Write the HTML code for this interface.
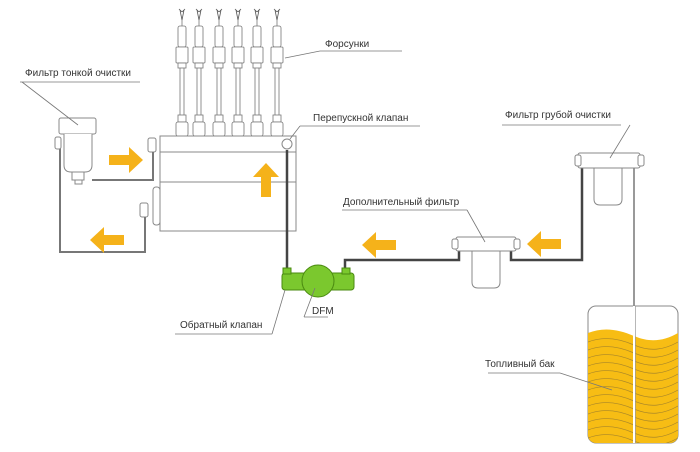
<!DOCTYPE html>
<html><head><meta charset="utf-8"><style>
html,body{margin:0;padding:0;background:#fff;width:700px;height:452px;overflow:hidden}
svg text{font-family:"Liberation Sans",sans-serif;font-size:10px;fill:#333}
</style></head><body>
<svg width="700" height="452" viewBox="0 0 700 452" xmlns="http://www.w3.org/2000/svg">
<defs>
<clipPath id="tank"><rect x="588" y="306" width="90" height="137" rx="8"/></clipPath>
<g id="inj" fill="#fff" stroke="#777" stroke-width="0.8">
<path d="M-2 10 L0 20 L2 10 M0 12 L-3 9 M0 12 L3 9" fill="none" stroke="#555"/>
<line x1="0" y1="20" x2="0" y2="26"/>
<rect x="-4" y="26" width="8" height="21" rx="2"/>
<rect x="-6" y="47" width="12" height="16" rx="1"/>
<rect x="-4" y="63" width="8" height="5"/>
<line x1="-2" y1="68" x2="-2" y2="115"/><line x1="2" y1="68" x2="2" y2="115"/>
<rect x="-4" y="115" width="8" height="7"/>
<rect x="-6" y="122" width="12" height="14" rx="2"/>
</g>
<g id="arr" fill="#f5b21a"><polygon points="0,0 14,-13 14,-5 34,-5 34,5 14,5 14,13"/></g>
<path id="wv" d="M588 0 C603 -6 618 -4 634 3 C650 10 664 8 678 0" fill="none" stroke="#a8862a" stroke-width="0.7"/>
</defs>

<use href="#inj" x="182" y="0"/><use href="#inj" x="199" y="0"/><use href="#inj" x="219" y="0"/>
<use href="#inj" x="238" y="0"/><use href="#inj" x="257" y="0"/><use href="#inj" x="277" y="0"/>

<g fill="#fff" stroke="#888" stroke-width="1">
<rect x="160" y="136" width="136" height="95"/>
<line x1="160" y1="152" x2="296" y2="152"/>
<line x1="160" y1="182" x2="296" y2="182"/>
<rect x="153" y="187" width="7" height="38" rx="3"/>
<rect x="148" y="138" width="8" height="14" rx="2"/>
<rect x="140" y="203" width="8" height="14" rx="2"/>
<circle cx="287" cy="144" r="5"/>
</g>
<g fill="none" stroke="#777" stroke-width="2">
<path d="M92 180 L153 180 L153 152"/>
<path d="M60 140 L60 252 L145 252 L145 217"/>
<path d="M634 166 L634 440" stroke="#999"/>
</g>
<path d="M287 150 L287 270" stroke="#444" stroke-width="2.5" fill="none"/>
<path d="M345 272 L345 260 L459 260 L459 250" stroke="#444" stroke-width="2.5" fill="none"/>
<path d="M511 250 L511 260 L582 260 L582 168" stroke="#444" stroke-width="2.5" fill="none"/>

<g fill="#fff" stroke="#888">
<rect x="59" y="118" width="37" height="16" rx="2"/>
<path d="M64 134 L64 165 Q64 172 71 172 L85 172 Q92 172 92 165 L92 134"/>
<rect x="55" y="137" width="6" height="12" rx="2"/>
<rect x="72" y="172" width="12" height="8"/>
<rect x="75" y="180" width="7" height="4"/>
</g>

<g stroke="#4a8a10" stroke-width="1">
<rect x="282" y="273" width="72" height="17" rx="3" fill="#7bc82e"/>
<circle cx="318" cy="281" r="16" fill="#7bc82e"/>
<rect x="283" y="268" width="8" height="6" fill="#7bc82e"/>
<rect x="342" y="268" width="8" height="6" fill="#7bc82e"/>
</g>

<g fill="#fff" stroke="#888">
<path d="M472 250 L472 282 Q472 288 478 288 L494 288 Q500 288 500 282 L500 250"/>
<rect x="456" y="237" width="60" height="14" rx="2"/>
<rect x="452" y="239" width="6" height="10" rx="2"/><rect x="514" y="239" width="6" height="10" rx="2"/>
</g>

<g fill="#fff" stroke="#888">
<path d="M594 168 L594 199 Q594 205 600 205 L616 205 Q622 205 622 199 L622 168"/>
<rect x="578" y="153" width="62" height="15" rx="2"/>
<rect x="575" y="155" width="6" height="11" rx="2"/><rect x="638" y="155" width="6" height="11" rx="2"/>
</g>

<rect x="588" y="306" width="90" height="137" rx="8" fill="#fff" stroke="#888"/>
<g clip-path="url(#tank)">
<path d="M588 333 C603 327 618 329 634 336 C650 343 664 341 678 333 L678 445 L588 445 Z" fill="#f7bd14"/>
<use href="#wv" y="342"/><use href="#wv" y="350"/><use href="#wv" y="358"/><use href="#wv" y="366"/>
<use href="#wv" y="374"/><use href="#wv" y="382"/><use href="#wv" y="390"/><use href="#wv" y="398"/>
<use href="#wv" y="406"/><use href="#wv" y="414"/><use href="#wv" y="422"/><use href="#wv" y="430"/>
<use href="#wv" y="438"/>
<line x1="634" y1="300" x2="634" y2="445" stroke="#fff" stroke-width="2"/>
<line x1="635.5" y1="300" x2="635.5" y2="445" stroke="#999" stroke-width="0.7"/>
</g>

<use href="#arr" transform="translate(143,160) rotate(180)"/>
<use href="#arr" transform="translate(90,240)"/>
<use href="#arr" transform="translate(266,163) rotate(90)"/>
<use href="#arr" transform="translate(362,245)"/>
<use href="#arr" transform="translate(527,244)"/>

<g fill="none" stroke="#777" stroke-width="0.8">
<path d="M320 51 L402 51 M320 51 L285 58"/>
<path d="M20 82 L140 82 M22 82 L78 125"/>
<path d="M300 126 L420 126 M300 126 L290 139"/>
<path d="M502 125 L621 125 M630 125 L610 158"/>
<path d="M342 210 L467 210 M467 210 L485 242"/>
<path d="M175 334 L272 334 M272 334 L285 290"/>
<path d="M304 317 L328 317 M304 317 L315 288"/>
<path d="M488 373 L560 373 M560 373 L612 390"/>
</g>
<text x="325" y="47">Форсунки</text>
<text x="25" y="76">Фильтр тонкой очистки</text>
<text x="313" y="121">Перепускной клапан</text>
<text x="505" y="118">Фильтр грубой очистки</text>
<text x="343" y="205">Дополнительный фильтр</text>
<text x="180" y="328">Обратный клапан</text>
<text x="312" y="314">DFM</text>
<text x="485" y="367">Топливный бак</text>
</svg>
</body></html>
